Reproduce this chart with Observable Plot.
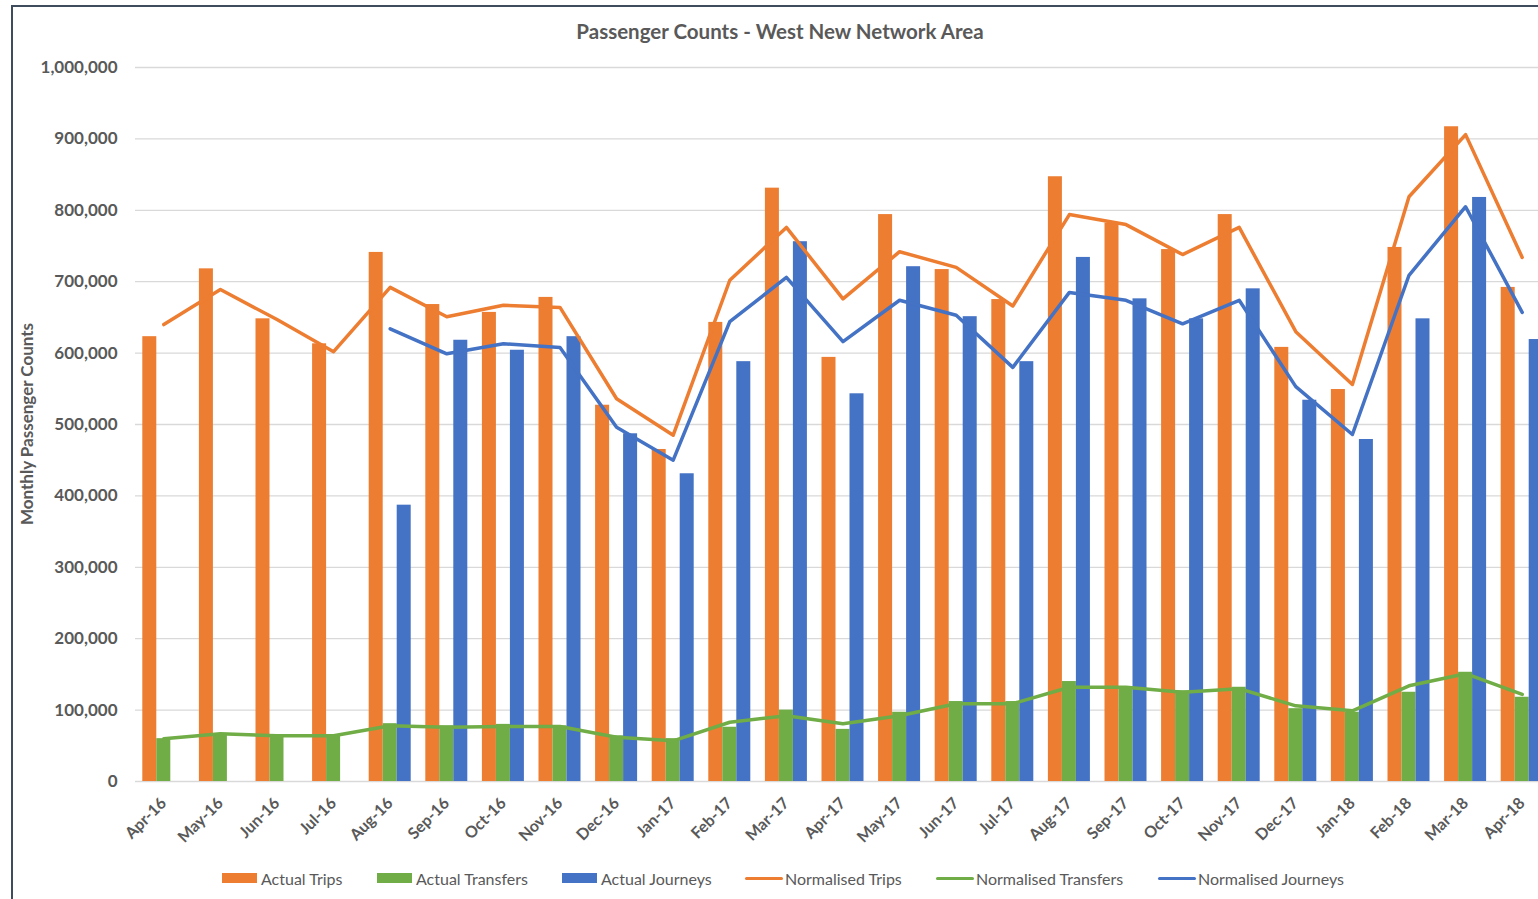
<!DOCTYPE html>
<html>
<head>
<meta charset="utf-8">
<script src="https://cdn.jsdelivr.net/npm/d3@7"></script>
<script src="https://cdn.jsdelivr.net/npm/@observablehq/plot@0.6"></script>
<style>
html, body { margin: 0; padding: 0; background: #fff; width: 1538px; height: 899px; overflow: hidden; }
#wrap { position: relative; width: 1538px; height: 899px; overflow: hidden; font-family: Lato, "Open Sans", sans-serif; color: #595959; }
#frame { position: absolute; left: 11px; top: 5px; width: 1700px; height: 1000px; border-left: 2px solid #3e4c5d; border-top: 2px solid #3e4c5d; box-sizing: border-box; }
#chart { position: absolute; left: 0; top: 0; width: 1552px; }
#chart svg { max-width: none !important; }
#title { position: absolute; left: 0; top: 18px; width: 1560px; text-align: center; font-weight: 700; font-size: 20.5px; line-height: 26px; }
#ylabel { position: absolute; left: 26px; top: 424px; transform: translate(-50%, -50%) rotate(-90deg); white-space: nowrap; font-weight: 700; font-size: 17px; }
.leg { position: absolute; top: 869px; height: 18px; display: flex; align-items: center; font-size: 16px; white-space: nowrap; }
.sw { width: 35px; height: 10px; margin-right: 4px; }
.ln { width: 38px; height: 3px; margin-right: 2px; border-radius: 2px; }
</style>
</head>
<body>
<div id="wrap">
  <div id="frame"></div>
  <div id="chart"></div>
  <div id="title"></div>
  <div id="ylabel"></div>
  <div id="legend"></div>
</div>
<script>
const titleText = "Passenger Counts - West New Network Area";
const yLabelText = "Monthly Passenger Counts";
const months = ["Apr-16","May-16","Jun-16","Jul-16","Aug-16","Sep-16","Oct-16","Nov-16","Dec-16","Jan-17","Feb-17","Mar-17","Apr-17","May-17","Jun-17","Jul-17","Aug-17","Sep-17","Oct-17","Nov-17","Dec-17","Jan-18","Feb-18","Mar-18","Apr-18"];
const actualTrips = [623000,718000,648000,613000,741000,668000,657000,678000,527000,465000,643000,831000,594000,794000,717000,675000,847000,782000,745000,794000,608000,549000,748000,917000,692000];
const actualTransfers = [60000,67000,64000,64000,81000,78000,80000,78000,64000,60000,76000,100000,73000,97000,112000,112000,140000,132000,127000,132000,102000,97000,125000,153000,118000];
const actualJourneys = [null,null,null,null,387000,618000,604000,623000,487000,431000,588000,756000,543000,721000,651000,588000,734000,676000,648000,690000,534000,479000,648000,818000,619000];
const normTrips = [640000,689000,647000,602000,692000,651000,667000,664000,536000,485000,702000,776000,676000,742000,720000,666000,794000,780000,738000,776000,630000,556000,819000,906000,734000];
const normTransfers = [60000,67000,64000,64000,78000,76000,77000,77000,62000,57000,83000,92000,81000,92000,109000,109000,132000,132000,125000,130000,106000,99000,134000,151000,122000];
const normJourneys = [null,null,null,null,634000,599000,613000,608000,496000,450000,644000,706000,616000,674000,653000,580000,685000,674000,641000,674000,553000,486000,709000,805000,657000];
const yTicks = [0,100000,200000,300000,400000,500000,600000,700000,800000,900000,1000000];

const seriesNames = ["Actual Trips","Actual Transfers","Actual Journeys","Normalised Trips","Normalised Transfers","Normalised Journeys"];
const colors = {orange: "#ED7D31", green: "#70AD47", blue: "#4472C4"};

const rows = (vals) => months.map((m, i) => ({month: m, value: vals[i]})).filter(d => d.value != null);

const W = 1552, left = 135, right = 1550;
const bw = (right - left) / months.length; // band width
const barW = 14;
const off0 = bw / 2 - 1.5 * barW;

const barOpts = (k, fill) => ({
  x: "month", y: "value", fill,
  insetLeft: off0 + k * barW,
  insetRight: bw - (off0 + (k + 1) * barW)
});

const plot = Plot.plot({
  width: W,
  height: 899,
  marginLeft: left,
  marginRight: W - right,
  marginTop: 67,
  marginBottom: 118,
  style: {fontFamily: "Lato, 'Open Sans', sans-serif", color: "#595959", background: "transparent", overflow: "visible", maxWidth: "none"},
  x: {type: "band", domain: months, padding: 0, round: false, label: null},
  y: {domain: [0, 1000000], label: null},
  marks: [
    Plot.gridY(yTicks, {stroke: "#d9d9d9", strokeOpacity: 1, strokeWidth: 1.3}),
    Plot.barY(rows(actualTrips), barOpts(0, colors.orange)),
    Plot.barY(rows(actualTransfers), barOpts(1, colors.green)),
    Plot.barY(rows(actualJourneys), barOpts(2, colors.blue)),
    Plot.lineY(rows(normTrips), {x: "month", y: "value", stroke: colors.orange, strokeWidth: 3.5}),
    Plot.lineY(rows(normTransfers), {x: "month", y: "value", stroke: colors.green, strokeWidth: 3.5}),
    Plot.lineY(rows(normJourneys), {x: "month", y: "value", stroke: colors.blue, strokeWidth: 3.5}),
    Plot.axisY(yTicks, {tickSize: 0, tickPadding: 18, tickFormat: d3.format(","), fontWeight: "bold", fontSize: 17, fill: "#595959", label: null}),
    Plot.axisX({tickSize: 0, tickPadding: 19, tickRotate: -45, fontWeight: "bold", fontSize: 16, fill: "#595959", label: null})
  ]
});
document.getElementById("chart").appendChild(plot);
document.getElementById("title").textContent = titleText;
document.getElementById("ylabel").textContent = yLabelText;

const legendLefts = [222, 377, 562, 745, 936, 1158];
const legendKinds = [["sw", colors.orange], ["sw", colors.green], ["sw", colors.blue], ["ln", colors.orange], ["ln", colors.green], ["ln", colors.blue]];
const legend = document.getElementById("legend");
seriesNames.forEach((name, i) => {
  const item = document.createElement("div");
  item.className = "leg";
  item.style.left = legendLefts[i] + "px";
  const s = document.createElement("div");
  s.className = legendKinds[i][0];
  s.style.background = legendKinds[i][1];
  const t = document.createElement("span");
  t.textContent = name;
  item.appendChild(s);
  item.appendChild(t);
  legend.appendChild(item);
});
</script>
</body>
</html>
